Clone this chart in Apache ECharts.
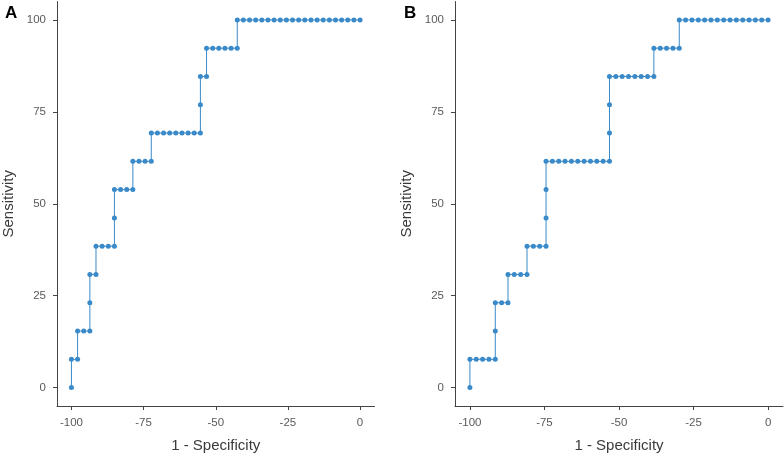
<!DOCTYPE html>
<html>
<head>
<meta charset="utf-8">
<script src="https://cdn.jsdelivr.net/npm/echarts@6/dist/echarts.min.js"></script>
<style>html,body{margin:0;padding:0;background:#fff;}#c{width:784px;height:458px;}</style>
</head>
<body>
<div id="c"></div>
<script>
// Panel A: ROC points (1 - Specificity, Sensitivity)
var panelA_x = [-100,-100,-97.87,-97.87,-95.74,-93.62,-93.62,-93.62,-91.49,-91.49,-89.36,-87.23,-85.11,-85.11,-85.11,-82.98,-80.85,-78.72,-78.72,-76.60,-74.47,-72.34,-72.34,-70.21,-68.09,-65.96,-63.83,-61.70,-59.57,-57.45,-55.32,-55.32,-55.32,-53.19,-53.19,-51.06,-48.94,-46.81,-44.68,-42.55,-42.55,-40.43,-38.30,-36.17,-34.04,-31.91,-29.79,-27.66,-25.53,-23.40,-21.28,-19.15,-17.02,-14.89,-12.77,-10.64,-8.51,-6.38,-4.26,-2.13,0];
var panelA_y = [0,7.69,7.69,15.38,15.38,15.38,23.08,30.77,30.77,38.46,38.46,38.46,38.46,46.15,53.85,53.85,53.85,53.85,61.54,61.54,61.54,61.54,69.23,69.23,69.23,69.23,69.23,69.23,69.23,69.23,69.23,76.92,84.62,84.62,92.31,92.31,92.31,92.31,92.31,92.31,100,100,100,100,100,100,100,100,100,100,100,100,100,100,100,100,100,100,100,100,100];

// Panel B
var panelB_x = [-100,-100,-97.87,-95.74,-93.62,-91.49,-91.49,-91.49,-89.36,-87.23,-87.23,-85.11,-82.98,-80.85,-80.85,-78.72,-76.60,-74.47,-74.47,-74.47,-74.47,-72.34,-70.21,-68.09,-65.96,-63.83,-61.70,-59.57,-57.45,-55.32,-53.19,-53.19,-53.19,-53.19,-51.06,-48.94,-46.81,-44.68,-42.55,-40.43,-38.30,-38.30,-36.17,-34.04,-31.91,-29.79,-29.79,-27.66,-25.53,-23.40,-21.28,-19.15,-17.02,-14.89,-12.77,-10.64,-8.51,-6.38,-4.26,-2.13,0];
var panelB_y = [0,7.69,7.69,7.69,7.69,7.69,15.38,23.08,23.08,23.08,30.77,30.77,30.77,30.77,38.46,38.46,38.46,38.46,46.15,53.85,61.54,61.54,61.54,61.54,61.54,61.54,61.54,61.54,61.54,61.54,61.54,69.23,76.92,84.62,84.62,84.62,84.62,84.62,84.62,84.62,84.62,92.31,92.31,92.31,92.31,92.31,100,100,100,100,100,100,100,100,100,100,100,100,100,100,100];

var xTicks = [-100, -75, -50, -25, 0];
var yTicks = [0, 25, 50, 75, 100];
var xTitle = '1 - Specificity';
var yTitle = 'Sensitivity';
var panelLabels = ['A', 'B'];

function pairs(xs, ys) { return xs.map(function (x, i) { return [x, ys[i]]; }); }

var FONT = 'Liberation Sans, Arial, sans-serif';
var COLOR = '#3a8ac9';

function xAxis(idx) {
  return {
    type: 'value', gridIndex: idx, min: -105, max: 5,
    name: xTitle, nameLocation: 'middle', nameGap: 32,
    nameTextStyle: { fontFamily: FONT, fontSize: 15, color: '#3a3a3a' },
    axisLine: { show: true, onZero: false, lineStyle: { color: '#444', width: 1 } },
    axisTick: { show: true, length: 4, customValues: xTicks, lineStyle: { color: '#444' } },
    axisLabel: { customValues: xTicks, margin: 11, fontFamily: FONT, fontSize: 11.5, color: '#5a5a5a' },
    splitLine: { show: false }
  };
}
function yAxis(idx) {
  return {
    type: 'value', gridIndex: idx, min: -5, max: 105,
    name: yTitle, nameLocation: 'middle', nameGap: 41, nameRotate: 90,
    nameTextStyle: { fontFamily: FONT, fontSize: 15, color: '#3a3a3a' },
    axisLine: { show: true, onZero: false, lineStyle: { color: '#444', width: 1 } },
    axisTick: { show: true, length: 4, customValues: yTicks, lineStyle: { color: '#444' } },
    axisLabel: { customValues: yTicks, margin: 11, fontFamily: FONT, fontSize: 11.5, color: '#5a5a5a' },
    splitLine: { show: false }
  };
}
function series(idx, data) {
  return {
    type: 'line', xAxisIndex: idx, yAxisIndex: idx, data: data,
    symbol: 'circle', symbolSize: 5, showSymbol: true, animation: false, clip: false,
    itemStyle: { color: COLOR },
    lineStyle: { color: COLOR, width: 1 }
  };
}

var chart = echarts.init(document.getElementById('c'), null, { renderer: 'canvas' });
chart.setOption({
  animation: false,
  backgroundColor: '#fff',
  grid: [
    { left: 56.5, top: 1.5, width: 318, height: 407 },
    { left: 455, top: 1.5, width: 328, height: 407 }
  ],
  xAxis: [xAxis(0), xAxis(1)],
  yAxis: [yAxis(0), yAxis(1)],
  series: [series(0, pairs(panelA_x, panelA_y)), series(1, pairs(panelB_x, panelB_y))],
  graphic: [
    { type: 'text', left: 5, top: 5, style: { text: panelLabels[0], font: 'bold 17px ' + FONT, fill: '#000' } },
    { type: 'text', left: 404, top: 5, style: { text: panelLabels[1], font: 'bold 17px ' + FONT, fill: '#000' } }
  ]
});
</script>
</body>
</html>
